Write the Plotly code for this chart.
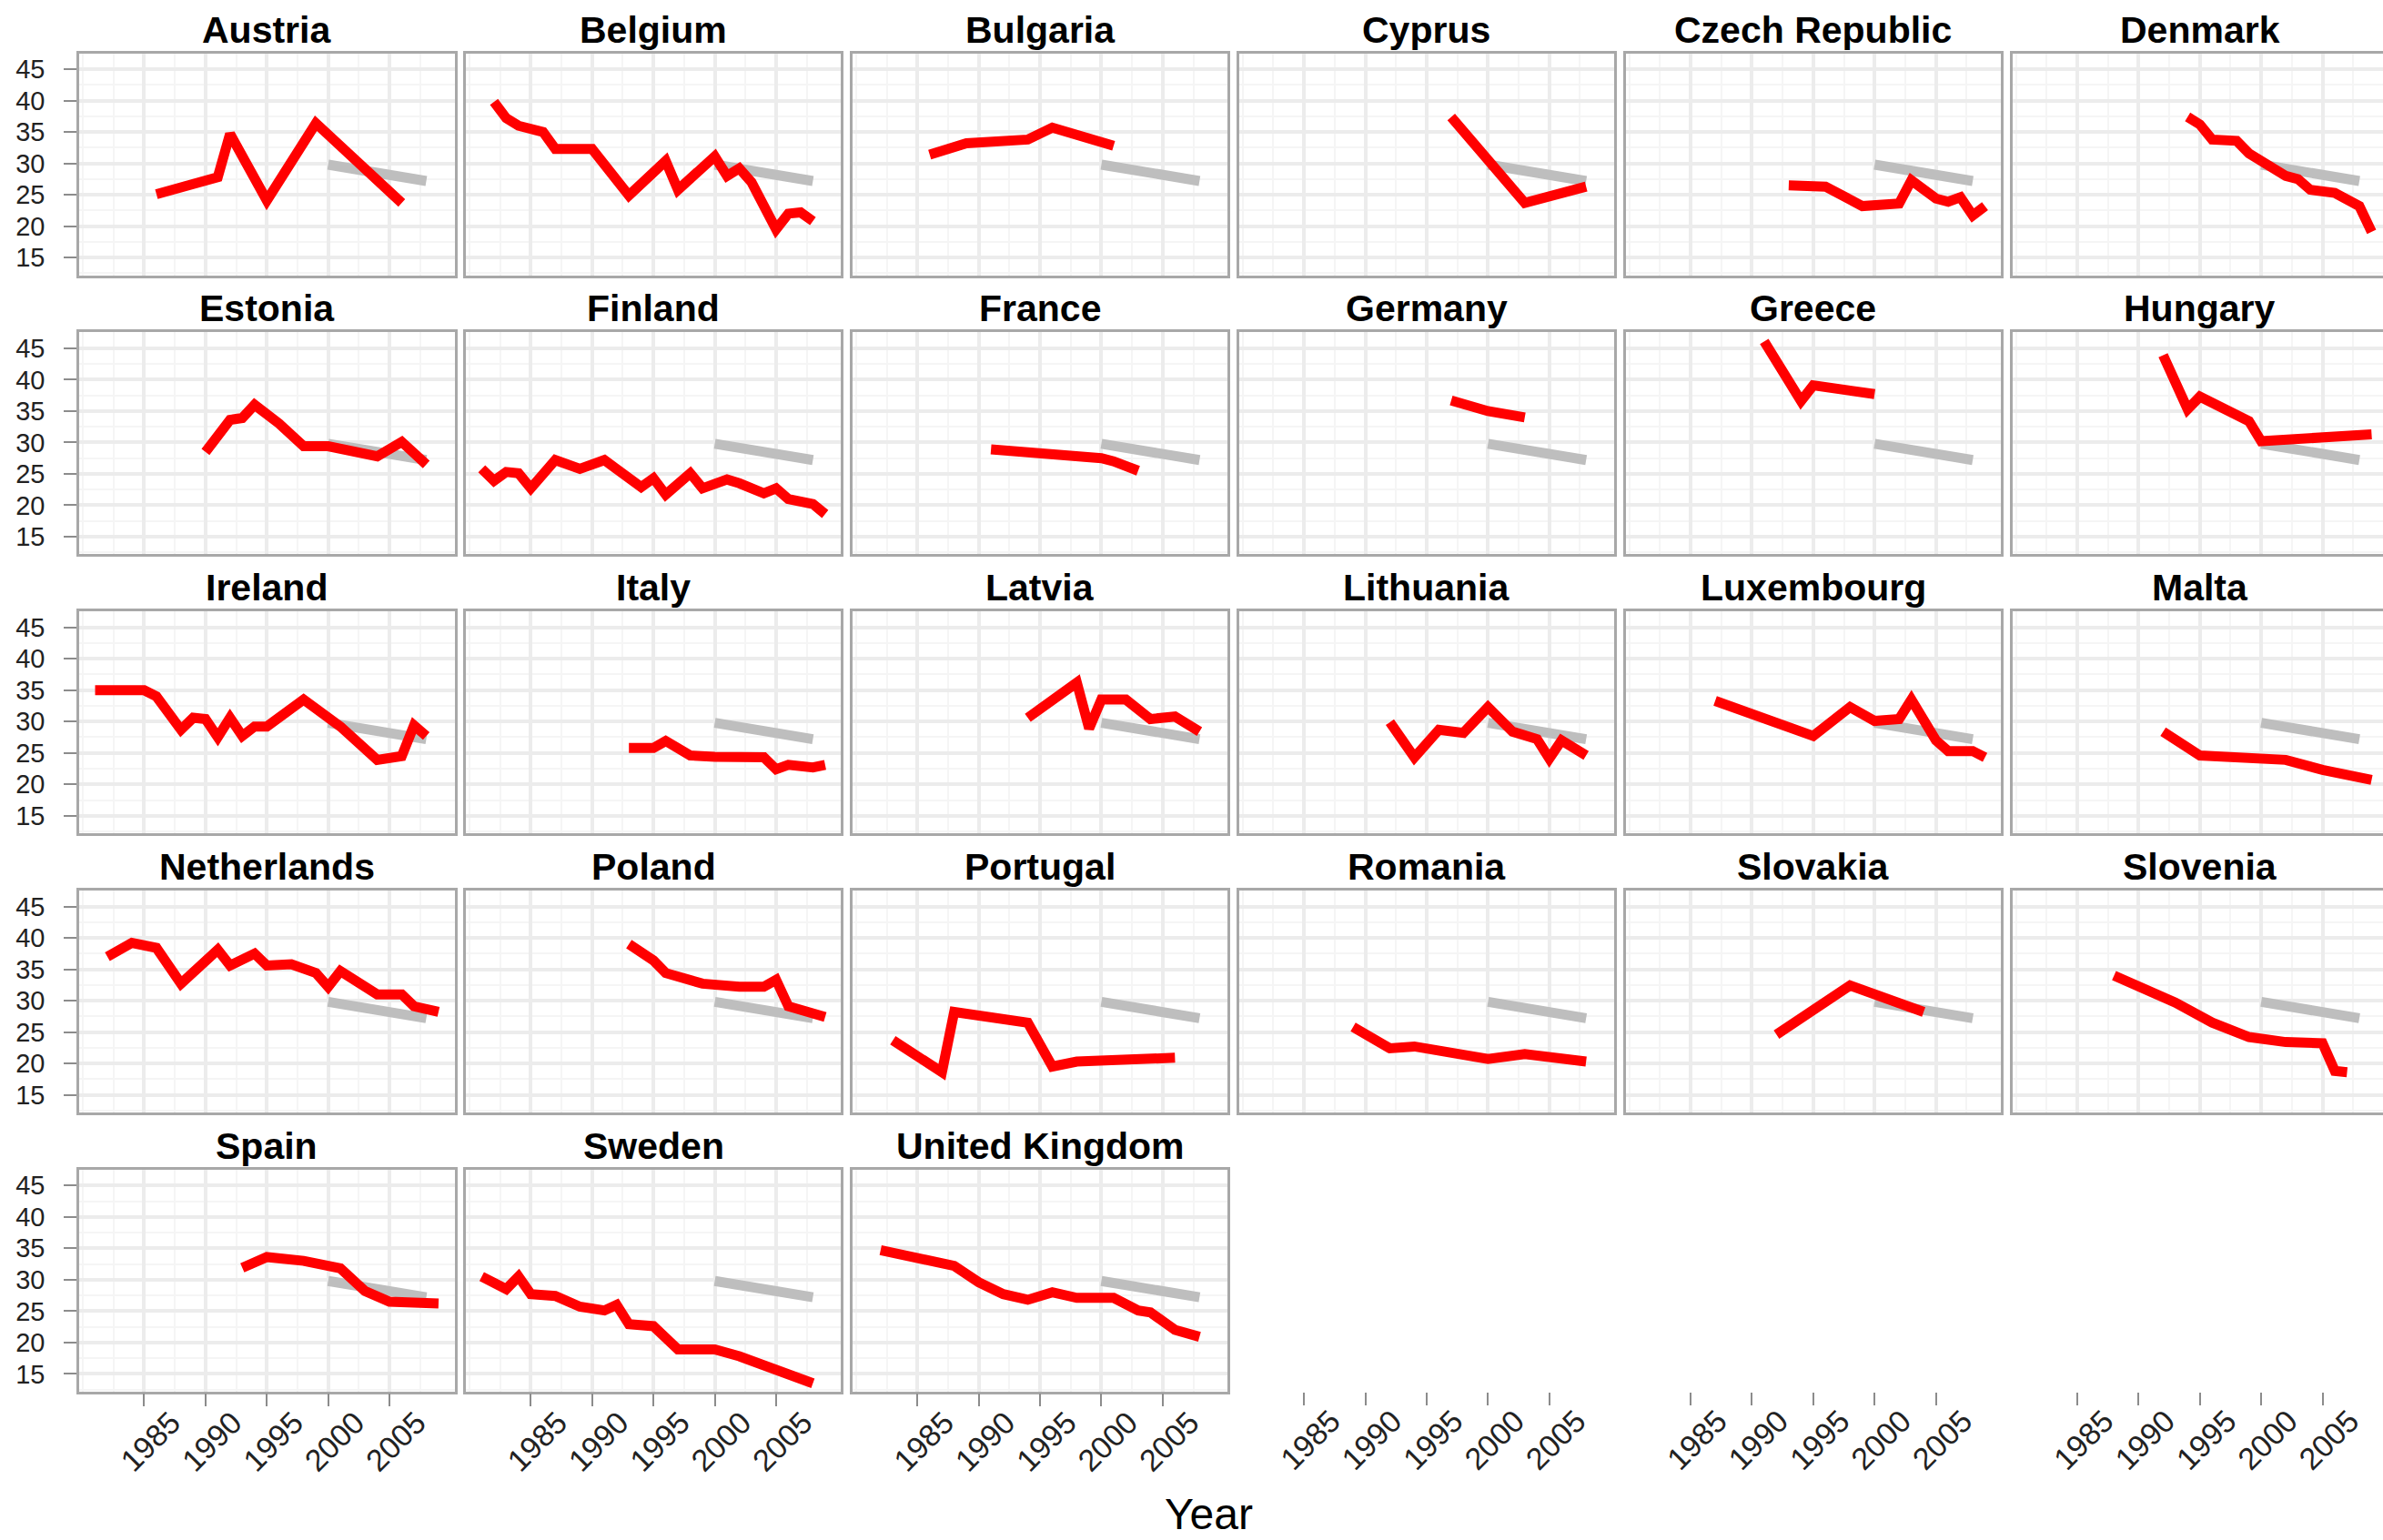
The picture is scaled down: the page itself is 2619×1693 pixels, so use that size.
import plotly.graph_objects as go

# ---------------- data ----------------
countries = ["Austria", "Belgium", "Bulgaria", "Cyprus", "Czech Republic", "Denmark",
             "Estonia", "Finland", "France", "Germany", "Greece", "Hungary",
             "Ireland", "Italy", "Latvia", "Lithuania", "Luxembourg", "Malta",
             "Netherlands", "Poland", "Portugal", "Romania", "Slovakia", "Slovenia",
             "Spain", "Sweden", "United Kingdom"]

eu_years = [2000, 2001, 2002, 2003, 2004, 2005, 2006, 2007, 2008]
eu_gini = [29.8, 29.5, 29.2, 29.0, 28.7, 28.4, 28.1, 27.7, 27.2]

austria_years = [1986, 1991, 1992, 1995, 1999, 2006]
austria_gini = [25.1, 27.8, 34.7, 24.1, 36.4, 23.7]
belgium_years = [1982, 1983, 1984, 1986, 1987, 1990, 1993, 1996, 1997, 2000, 2001, 2002, 2003, 2005, 2006, 2007, 2008]
belgium_gini = [39.8, 37.2, 36.0, 35.0, 32.3, 32.3, 24.9, 30.4, 25.8, 31.1, 28.0, 29.2, 27.0, 19.5, 22.0, 22.2, 20.8]
bulgaria_years = [1986, 1989, 1994, 1996, 2001]
bulgaria_gini = [31.4, 33.2, 33.8, 35.7, 32.8]
cyprus_years = [1997, 2003, 2008]
cyprus_gini = [37.4, 23.7, 26.3]
czech_years = [1993, 1996, 1999, 2002, 2003, 2005, 2006, 2007, 2008, 2009]
czech_gini = [26.5, 26.3, 23.2, 23.6, 27.3, 24.4, 23.9, 24.6, 21.7, 23.2]
denmark_years = [1994, 1995, 1996, 1998, 1999, 2000, 2002, 2003, 2004, 2006, 2008, 2009]
denmark_gini = [37.4, 36.2, 33.8, 33.6, 31.6, 30.4, 28.0, 27.5, 25.8, 25.3, 23.2, 19.1]
estonia_years = [1990, 1992, 1993, 1994, 1996, 1998, 2000, 2002, 2004, 2006, 2008]
estonia_gini = [28.5, 33.6, 33.9, 36.0, 33.0, 29.4, 29.4, 28.8, 27.8, 30.1, 26.5]
finland_years = [1981, 1982, 1983, 1984, 1985, 1987, 1989, 1991, 1994, 1995, 1996, 1998, 1999, 2001, 2002, 2004, 2005, 2006, 2008, 2009]
finland_gini = [25.8, 23.9, 25.3, 25.1, 22.7, 27.2, 25.8, 27.2, 22.9, 24.3, 21.7, 25.1, 22.7, 24.1, 23.5, 21.9, 22.7, 21.0, 20.2, 18.6]
france_years = [1991, 1996, 2000, 2001, 2003]
france_gini = [28.9, 28.2, 27.5, 27.0, 25.5]
germany_years = [1997, 2000, 2003]
germany_gini = [36.7, 35.0, 34.0]
greece_years = [1991, 1994, 1995, 2000]
greece_gini = [46.1, 36.6, 39.1, 37.7]
hungary_years = [1992, 1994, 1995, 1999, 2000, 2009]
hungary_gini = [43.9, 35.3, 37.3, 33.4, 30.2, 31.3]
ireland_years = [1981, 1985, 1986, 1988, 1989, 1990, 1991, 1992, 1993, 1994, 1995, 1998, 2001, 2004, 2006, 2007, 2008]
ireland_gini = [35.0, 35.0, 34.0, 28.7, 30.6, 30.4, 27.5, 30.6, 27.7, 29.2, 29.2, 33.5, 29.2, 23.9, 24.5, 29.4, 27.7]
italy_years = [1993, 1995, 1996, 1998, 2000, 2003, 2004, 2005, 2006, 2008, 2009]
italy_gini = [25.8, 25.8, 26.9, 24.6, 24.4, 24.1, 24.3, 22.4, 23.1, 22.7, 23.1]
latvia_years = [1994, 1998, 1999, 2000, 2002, 2004, 2006, 2008]
latvia_gini = [30.6, 36.2, 28.9, 33.5, 33.5, 30.4, 30.8, 28.4]
lithuania_years = [1992, 1994, 1996, 1998, 2000, 2002, 2004, 2005, 2006, 2008]
lithuania_gini = [29.9, 24.3, 28.7, 28.2, 32.3, 28.4, 27.2, 24.1, 27.0, 24.6]
luxembourg_years = [1987, 1995, 1998, 2000, 2002, 2003, 2005, 2006, 2008, 2009]
luxembourg_gini = [33.3, 27.7, 32.3, 30.1, 30.4, 33.5, 27.0, 25.3, 25.3, 24.3]
malta_years = [1992, 1995, 2002, 2005, 2009]
malta_gini = [28.4, 24.6, 23.9, 22.3, 20.7]
netherlands_years = [1982, 1984, 1986, 1988, 1991, 1992, 1994, 1995, 1997, 1999, 2000, 2001, 2004, 2006, 2007, 2009]
netherlands_gini = [37.0, 39.2, 38.4, 32.7, 38.1, 35.6, 37.5, 35.6, 35.8, 34.4, 32.2, 34.7, 31.0, 31.0, 29.1, 28.2]
poland_years = [1993, 1995, 1996, 1999, 2002, 2004, 2005, 2006, 2009]
poland_gini = [39.0, 36.4, 34.4, 32.7, 32.2, 32.2, 33.3, 29.1, 27.4]
portugal_years = [1983, 1985, 1987, 1988, 1994, 1996, 1998, 2006]
portugal_gini = [23.7, 21.2, 18.6, 28.2, 26.5, 19.5, 20.3, 20.9]
romania_years = [1989, 1992, 1994, 2000, 2003, 2008]
romania_gini = [25.8, 22.4, 22.7, 20.7, 21.5, 20.3]
slovakia_years = [1992, 1998, 2004]
slovakia_gini = [24.6, 32.4, 28.2]
slovenia_years = [1988, 1993, 1996, 1999, 2002, 2005, 2006, 2007]
slovenia_gini = [34.0, 29.7, 26.5, 24.2, 23.4, 23.2, 18.8, 18.6]
spain_years = [1993, 1995, 1998, 2001, 2003, 2005, 2009]
spain_gini = [31.9, 33.6, 33.0, 31.8, 28.2, 26.5, 26.2]
sweden_years = [1981, 1983, 1984, 1985, 1987, 1989, 1991, 1992, 1993, 1995, 1997, 2000, 2002, 2004, 2006, 2008]
sweden_gini = [30.5, 28.5, 30.5, 27.7, 27.4, 25.7, 25.1, 26.0, 22.9, 22.6, 18.9, 18.9, 17.8, 16.4, 14.7, 13.5]
uk_years = [1982, 1985, 1988, 1990, 1992, 1994, 1996, 1998, 2001, 2003, 2004, 2006, 2008]
uk_gini = [34.7, 33.3, 32.2, 29.6, 27.7, 26.8, 28.0, 27.1, 27.1, 25.1, 24.8, 22.0, 20.9]

x_ticks = [1985, 1990, 1995, 2000, 2005]
x_minor = [1980, 1982.5, 1987.5, 1992.5, 1997.5, 2002.5, 2007.5]
y_ticks = [15, 20, 25, 30, 35, 40, 45]
y_minor = [12.5, 17.5, 22.5, 27.5, 32.5, 37.5, 42.5, 47.5]

series = [
    (austria_years, austria_gini), (belgium_years, belgium_gini), (bulgaria_years, bulgaria_gini),
    (cyprus_years, cyprus_gini), (czech_years, czech_gini), (denmark_years, denmark_gini),
    (estonia_years, estonia_gini), (finland_years, finland_gini), (france_years, france_gini),
    (germany_years, germany_gini), (greece_years, greece_gini), (hungary_years, hungary_gini),
    (ireland_years, ireland_gini), (italy_years, italy_gini), (latvia_years, latvia_gini),
    (lithuania_years, lithuania_gini), (luxembourg_years, luxembourg_gini), (malta_years, malta_gini),
    (netherlands_years, netherlands_gini), (poland_years, poland_gini), (portugal_years, portugal_gini),
    (romania_years, romania_gini), (slovakia_years, slovakia_gini), (slovenia_years, slovenia_gini),
    (spain_years, spain_gini), (sweden_years, sweden_gini), (uk_years, uk_gini),
]

# ---------------- layout geometry ----------------
W, H = 2619, 1693
PANEL_W, PANEL_H = 412.5, 244.0
COL_X0, COL_PITCH = 87.0, 424.9
ROW_Y0, ROW_PITCH = 58.5, 306.8
X_RANGE = [1979.7, 2010.3]
Y_RANGE = [12.2, 47.55]
PX_PER_YEAR = PANEL_W / (X_RANGE[1] - X_RANGE[0])

FONT = "Liberation Sans, Arial, Helvetica, sans-serif"
BORDER = "#a8a8a8"
GRID_MAJOR = "#ececec"
GRID_MINOR = "#f5f5f5"
TICK_COLOR = "#8c8c8c"
TEXT_COLOR = "#222222"

fig = go.Figure()
layout_axes = {}
annotations = []

for idx in range(30):
    r, c = divmod(idx, 6)
    n = idx + 1
    left = COL_X0 + c * COL_PITCH
    right = min(left + PANEL_W, W)
    top = ROW_Y0 + r * ROW_PITCH
    bottom = top + PANEL_H
    xr = [X_RANGE[0], X_RANGE[0] + (right - left) / PX_PER_YEAR]
    xd = [left / W, right / W]
    yd = [1 - bottom / H, 1 - top / H]
    xa = "x" if n == 1 else f"x{n}"
    ya = "y" if n == 1 else f"y{n}"
    xkey = "xaxis" if n == 1 else f"xaxis{n}"
    ykey = "yaxis" if n == 1 else f"yaxis{n}"
    has_panel = idx < len(countries)
    is_bottom = (r == 4)
    is_left = (c == 0)

    if has_panel:
        yrs, vals = series[idx]
        fig.add_trace(go.Scatter(x=eu_years, y=eu_gini, mode="lines",
                                 line=dict(color="#bebebe", width=11),
                                 xaxis=xa, yaxis=ya, showlegend=False, hoverinfo="skip"))
        fig.add_trace(go.Scatter(x=yrs, y=vals, mode="lines",
                                 line=dict(color="#ff0000", width=11),
                                 xaxis=xa, yaxis=ya, showlegend=False,
                                 name=countries[idx]))
        annotations.append(dict(text=f"<b>{countries[idx]}</b>", xref="paper", yref="paper",
                                x=(left + PANEL_W / 2) / W, y=1 - top / H,
                                xanchor="center", yanchor="bottom", yshift=1,
                                showarrow=False,
                                font=dict(family=FONT, size=41, color="#000000")))
    else:
        fig.add_trace(go.Scatter(x=[], y=[], mode="lines", xaxis=xa, yaxis=ya,
                                 showlegend=False, hoverinfo="skip"))

    xaxis = dict(domain=xd, range=xr, anchor=ya, zeroline=False, fixedrange=True,
                 tickmode="array", tickvals=x_ticks)
    yaxis = dict(domain=yd, range=Y_RANGE, anchor=xa, zeroline=False, fixedrange=True,
                 tickmode="array", tickvals=y_ticks)
    if has_panel:
        xaxis.update(showgrid=True, gridcolor=GRID_MAJOR, gridwidth=4,
                     minor=dict(tickmode="array", tickvals=x_minor, showgrid=True,
                                gridcolor=GRID_MINOR, gridwidth=2),
                     showline=True, linecolor=BORDER, linewidth=2.5, mirror=True)
        yaxis.update(showgrid=True, gridcolor=GRID_MAJOR, gridwidth=4,
                     minor=dict(tickmode="array", tickvals=y_minor, showgrid=True,
                                gridcolor=GRID_MINOR, gridwidth=2),
                     showline=True, linecolor=BORDER, linewidth=2.5,
                     mirror=(c != 5))
    else:
        xaxis.update(showgrid=False, showline=False)
        yaxis.update(visible=False, showgrid=False, showline=False)

    if is_bottom:
        xaxis.update(ticks="outside", ticklen=14, tickwidth=2, tickcolor=TICK_COLOR,
                     showticklabels=True, tickangle=-45,
                     ticklabelshift=30, ticklabelstandoff=-16,
                     tickfont=dict(family=FONT, size=34, color=TEXT_COLOR))
    else:
        xaxis.update(ticks="", showticklabels=False)
    if is_left and has_panel:
        yaxis.update(ticks="outside", ticklen=14, tickwidth=2, tickcolor=TICK_COLOR,
                     showticklabels=True, ticklabelstandoff=15,
                     tickfont=dict(family=FONT, size=29, color=TEXT_COLOR))
    else:
        yaxis.update(ticks="", showticklabels=False)
    layout_axes[xkey] = xaxis
    layout_axes[ykey] = yaxis

annotations.append(dict(text="Year", xref="paper", yref="paper",
                        x=1328 / W, y=0, xanchor="center", yanchor="bottom",
                        showarrow=False, font=dict(family=FONT, size=48, color="#000000")))

fig.update_layout(width=W, height=H, margin=dict(l=0, r=0, t=0, b=0),
                  paper_bgcolor="white", plot_bgcolor="white",
                  font=dict(family=FONT), annotations=annotations, **layout_axes)

fig.write_html("out.html", config={"displayModeBar": False},
               post_script="document.body.style.margin='0';document.body.style.overflow='hidden';")
